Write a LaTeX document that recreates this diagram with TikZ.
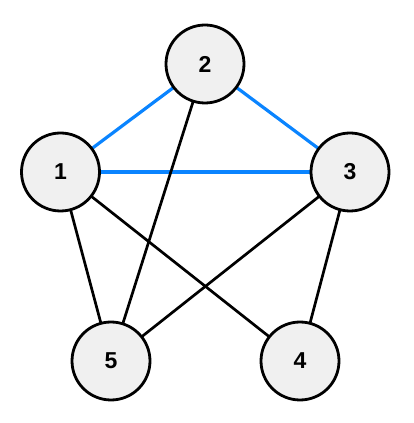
\documentclass[tikz,border=0pt]{standalone}
\usepackage{fontspec}
\setmainfont{Liberation Sans}
\definecolor{nodefill}{HTML}{F0F0F0}
\definecolor{edgeblue}{HTML}{0A84FF}
\begin{document}
\begin{tikzpicture}[x=1pt,y=1pt,
  vertex/.style={circle,draw=black,line width=2.8pt,fill=nodefill,minimum size=78pt,inner sep=0pt,font=\fontsize{23}{26}\selectfont\bfseries},
  blueedge/.style={draw=edgeblue,line width=3.2pt},
  blackedge/.style={draw=black,line width=2.7pt}]
\useasboundingbox (0,0) rectangle (413,423);
\coordinate (p1) at (60.5,251);
\coordinate (p2) at (205,359);
\coordinate (p3) at (350,251);
\coordinate (p4) at (300,62);
\coordinate (p5) at (111,62);
\draw[blueedge] (p1) -- (p2);
\draw[blueedge] (p2) -- (p3);
\draw[blueedge] (p1) -- (p3);
\draw[blackedge] (p1) -- (p5);
\draw[blackedge] (p1) -- (p4);
\draw[blackedge] (p2) -- (p5);
\draw[blackedge] (p3) -- (p5);
\draw[blackedge] (p3) -- (p4);
\node[vertex] (n1) at (p1) {1};
\node[vertex] (n2) at (p2) {2};
\node[vertex] (n3) at (p3) {3};
\node[vertex] (n4) at (p4) {4};
\node[vertex] (n5) at (p5) {5};
\end{tikzpicture}
\end{document}
